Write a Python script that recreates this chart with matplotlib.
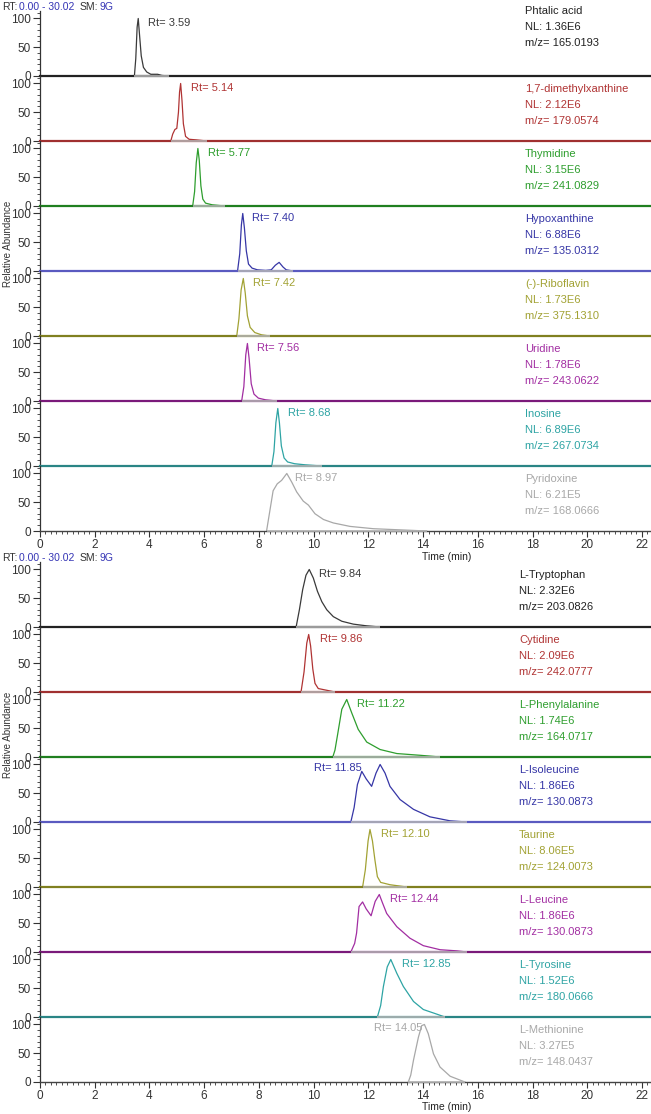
import matplotlib.pyplot as plt
from matplotlib.ticker import MultipleLocator

plt.rcParams['font.family'] = ['Liberation Sans', 'DejaVu Sans']

# ---- block 1 ----
names1 = ["Phtalic acid", "1,7-dimethylxanthine", "Thymidine", "Hypoxanthine",
          "(-)-Riboflavin", "Uridine", "Inosine", "Pyridoxine"]
nl1 = ["1.36E6", "2.12E6", "3.15E6", "6.88E6", "1.73E6", "1.78E6", "6.89E6", "6.21E5"]
mz1 = ["165.0193", "179.0574", "241.0829", "135.0312", "375.1310", "243.0622",
       "267.0734", "168.0666"]
rt1 = [3.59, 5.14, 5.77, 7.40, 7.42, 7.56, 8.68, 8.97]

phtalic_t = [3.45, 3.50, 3.55, 3.59, 3.64, 3.70, 3.78, 3.90, 4.05, 4.30, 4.45, 4.70]
phtalic_i = [0, 30, 85, 100, 70, 35, 15, 7, 3, 3, 1, 0]
dmx_t = [4.78, 4.85, 4.93, 5.00, 5.06, 5.10, 5.14, 5.19, 5.24, 5.32, 5.45, 5.70, 6.10]
dmx_i = [0, 12, 20, 22, 50, 85, 100, 70, 30, 8, 3, 2, 0]
thymidine_t = [5.58, 5.65, 5.71, 5.77, 5.82, 5.88, 5.95, 6.05, 6.30, 6.75]
thymidine_i = [0, 25, 75, 100, 80, 35, 12, 5, 2, 0]
hypox_t = [7.22, 7.30, 7.36, 7.41, 7.47, 7.54, 7.62, 7.75, 7.95, 8.25, 8.45, 8.60,
           8.74, 8.88, 9.00, 9.25]
hypox_i = [0, 30, 80, 100, 75, 35, 12, 5, 2, 1, 2, 10, 15, 7, 2, 0]
ribo_t = [7.19, 7.27, 7.35, 7.43, 7.50, 7.58, 7.68, 7.85, 8.10, 8.40]
ribo_i = [0, 30, 80, 100, 75, 35, 15, 6, 2, 0]
uridine_t = [7.37, 7.45, 7.52, 7.58, 7.64, 7.72, 7.82, 7.98, 8.25, 8.65]
uridine_i = [0, 25, 80, 100, 75, 30, 12, 5, 2, 0]
inosine_t = [8.47, 8.55, 8.62, 8.69, 8.75, 8.82, 8.92, 9.05, 9.30, 9.70, 10.3]
inosine_i = [0, 25, 75, 100, 75, 35, 14, 7, 4, 2, 0]
pyridox_t = [8.28, 8.40, 8.52, 8.67, 8.83, 9.02, 9.20, 9.38, 9.62, 9.81, 10.05, 10.36,
             10.72, 11.33, 12.18, 13.16, 14.13]
pyridox_i = [0, 35, 70, 82, 88, 100, 85, 68, 52, 45, 30, 20, 14, 8, 4, 2, 0]

# ---- block 2 ----
names2 = ["L-Tryptophan", "Cytidine", "L-Phenylalanine", "L-Isoleucine",
          "Taurine", "L-Leucine", "L-Tyrosine", "L-Methionine"]
nl2 = ["2.32E6", "2.09E6", "1.74E6", "1.86E6", "8.06E5", "1.86E6", "1.52E6", "3.27E5"]
mz2 = ["203.0826", "242.0777", "164.0717", "130.0873", "124.0073", "130.0873",
       "180.0666", "148.0437"]
rt2 = [9.84, 9.86, 11.22, 11.85, 12.10, 12.44, 12.85, 14.05]

trp_t = [9.36, 9.48, 9.60, 9.72, 9.84, 9.99, 10.14, 10.30, 10.48, 10.72, 11.03, 11.45,
         11.94, 12.43]
trp_i = [0, 30, 65, 90, 100, 85, 62, 44, 30, 18, 10, 5, 2, 0]
cyt_t = [9.54, 9.65, 9.75, 9.82, 9.89, 9.97, 10.05, 10.17, 10.48, 10.78]
cyt_i = [0, 35, 85, 100, 80, 40, 15, 6, 3, 0]
phe_t = [10.70, 10.78, 10.88, 11.03, 11.21, 11.39, 11.63, 11.94, 12.43, 13.04, 13.89, 14.62]
phe_i = [0, 12, 40, 83, 100, 77, 48, 26, 13, 6, 3, 0]
ile_t = [11.36, 11.48, 11.60, 11.76, 11.92, 12.12, 12.28, 12.43, 12.61, 12.79, 13.16,
         13.65, 14.25, 14.99, 15.60]
ile_i = [0, 25, 65, 88, 75, 62, 85, 100, 85, 62, 39, 22, 9, 2, 0]
tau_t = [11.79, 11.89, 11.99, 12.06, 12.15, 12.24, 12.33, 12.45, 12.79, 13.40]
tau_i = [0, 30, 80, 100, 80, 47, 18, 8, 4, 0]
leu_t = [11.36, 11.50, 11.57, 11.66, 11.79, 11.92, 12.10, 12.25, 12.40, 12.52, 12.67,
         13.04, 13.52, 14.01, 14.62, 15.23, 15.60]
leu_i = [0, 15, 33, 79, 87, 75, 63, 88, 100, 85, 67, 44, 24, 11, 4, 2, 0]
tyr_t = [12.33, 12.45, 12.55, 12.69, 12.82, 13.04, 13.28, 13.65, 14.01, 14.50, 14.80]
tyr_i = [0, 20, 53, 87, 100, 76, 53, 27, 13, 5, 0]
met_t = [13.46, 13.55, 13.65, 13.83, 13.95, 14.05, 14.19, 14.38, 14.62, 14.99, 15.53]
met_i = [0, 12, 38, 78, 98, 100, 84, 49, 26, 10, 0]

traces1 = [(phtalic_t, phtalic_i), (dmx_t, dmx_i), (thymidine_t, thymidine_i),
           (hypox_t, hypox_i), (ribo_t, ribo_i), (uridine_t, uridine_i),
           (inosine_t, inosine_i), (pyridox_t, pyridox_i)]
traces2 = [(trp_t, trp_i), (cyt_t, cyt_i), (phe_t, phe_i), (ile_t, ile_i),
           (tau_t, tau_i), (leu_t, leu_i), (tyr_t, tyr_i), (met_t, met_i)]

colors = ["#3a3a3a", "#b03434", "#2e9e2e", "#3636a6", "#a2a234", "#a22ea2",
          "#2ea4a4", "#a8a8a8"]
base_colors = ["#222222", "#a03030", "#1f7f1f", "#5a5ac0", "#808020", "#7a1a7a",
               "#2a8585", "#555555"]

W, H = 651, 1114
fig = plt.figure(figsize=(W / 100, H / 100), dpi=100)


def fx(x):
    return x / W


def fy(y):
    return 1 - y / H


def header(y):
    kw = dict(fontsize=7.5, va='center')
    fig.text(fx(2), fy(y), "RT:", color="#333333", **kw)
    fig.text(fx(19), fy(y), "0.00 - 30.02", color="#3535b5", **kw)
    fig.text(fx(80), fy(y), "SM:", color="#333333", **kw)
    fig.text(fx(100), fy(y), "9G", color="#3535b5", **kw)


def block(base0, names, nls, mzs, rts, traces, text_x, left_rt, first_shift,
          ylab_y, xlab_y):
    for i in range(8):
        yb = base0 + 65 * i
        ax = fig.add_axes([fx(40), fy(yb), fx(611), 65 / H])
        ax.patch.set_alpha(0)
        t, inten = traces[i]
        ax.plot(t, inten, color=colors[i], lw=0.9)
        ax.hlines(0, t[0], t[-1], color="#b4b4b4", lw=1.2, zorder=5, clip_on=False)
        ax.set_xlim(0, 22.33)
        ax.set_ylim(0, 113)
        for s in ['top', 'right']:
            ax.spines[s].set_visible(False)
        ax.spines['left'].set_color("#333333")
        ax.spines['left'].set_linewidth(0.9)
        ax.yaxis.set_ticks([0, 50, 100])
        ax.yaxis.set_ticklabels(["0", "50", "100"])
        ax.yaxis.set_minor_locator(MultipleLocator(10))
        ax.tick_params(axis='y', which='major', length=5, width=0.8, labelsize=8.5,
                       pad=1.5, colors="#333333")
        ax.tick_params(axis='y', which='minor', length=2.5, width=0.6, colors="#333333")
        if i < 7:
            ax.spines['bottom'].set_color(base_colors[i])
            ax.spines['bottom'].set_linewidth(1.6)
            ax.set_xticks([])
            ax.xaxis.set_minor_locator(MultipleLocator(100))
        else:
            ax.spines['bottom'].set_color("#444444")
            ax.spines['bottom'].set_linewidth(1.0)
            ax.set_xticks(range(0, 23, 2))
            ax.xaxis.set_minor_locator(MultipleLocator(0.2))
            ax.tick_params(axis='x', which='major', length=4, width=0.8, labelsize=8.5,
                           pad=2, colors="#333333")
            ax.tick_params(axis='x', which='minor', length=2, width=0.6,
                           colors="#333333")
        # Rt label
        if i in left_rt:
            ax.annotate(f"Rt= {rts[i]:.2f}", xy=(rts[i], 100), xytext=(-2, -4),
                        textcoords='offset pixels', ha='right', va='center',
                        fontsize=8, color=colors[i])
        else:
            ax.annotate(f"Rt= {rts[i]:.2f}", xy=(rts[i], 100), xytext=(10, -5),
                        textcoords='offset pixels', ha='left', va='center',
                        fontsize=8, color=colors[i])
        # right-hand labels
        shift = first_shift if i == 0 else 0
        tc = colors[i] if i != 0 else "#222222"
        for k, s in enumerate([names[i], "NL: " + nls[i], "m/z= " + mzs[i]]):
            fig.text(fx(text_x), fy(yb - 52 - shift + 16 * k), s, fontsize=8,
                     color=tc, va='center', ha='left')
    fig.text(fx(8), fy(ylab_y), "Relative Abundance", rotation=90, fontsize=7,
             color="#333333", ha='center', va='center')
    fig.text(fx(447), fy(xlab_y), "Time (min)", fontsize=7.5, color="#222222",
             ha='center', va='center')


header(6.5)
block(76, names1, nl1, mz1, rt1, traces1, 525, [], 13, 244, 557)
header(558)
block(627, names2, nl2, mz2, rt2, traces2, 519, [3, 7], 0, 735, 1107)

fig.savefig("out.png", dpi=100)
